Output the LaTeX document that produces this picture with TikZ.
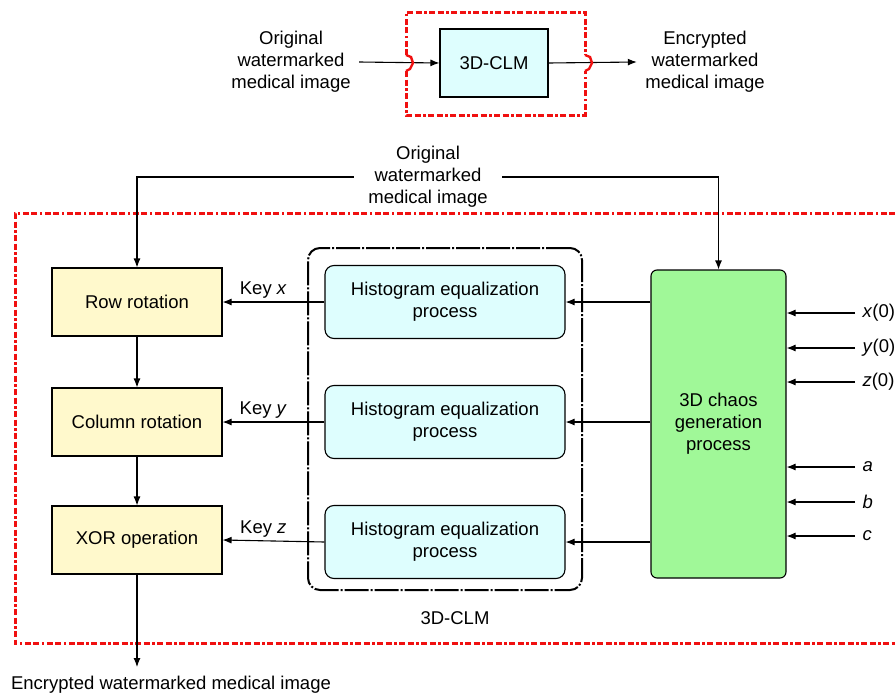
\documentclass[tikz,border=0pt]{standalone}
\usepackage{fontspec}
\setmainfont{Liberation Sans}
\usetikzlibrary{arrows.meta}

\definecolor{clmcyan}{RGB}{222,254,254}
\definecolor{keyyellow}{RGB}{255,249,204}
\definecolor{chaosgreen}{RGB}{160,248,152}
\definecolor{framered}{RGB}{240,16,16}

\tikzset{
    >={Latex[length=9pt,width=7pt]},
    opbox/.style={draw, fill=keyyellow, minimum width=170pt, minimum height=68pt},
    histbox/.style={draw, fill=clmcyan, rounded corners=9pt, minimum width=240pt, minimum height=73pt, align=center},
    redframe/.style={draw=framered, line width=3pt, dash pattern=on 6pt off 2.5pt on 6pt off 2.5pt on 2.5pt off 2.5pt},
    param/.style={anchor=west, inner xsep=7pt}
}

\begin{document}
\begin{tikzpicture}[x=1pt, y=-1pt, font=\fontsize{18.5}{22}\selectfont, line width=1.1pt]
            \useasboundingbox (0,0) rectangle (895,696);

            % top: overview
            \node[align=center, inner xsep=8pt] (OrigTop) at (291,62) {Original\\watermarked\\medical image};
            \node[draw, fill=clmcyan, minimum width=108pt, minimum height=68pt] (CLMTop) at (494,63) {3D-CLM};
            \node[align=center, inner xsep=8pt] (EncTop) at (705,62) {Encrypted\\watermarked\\medical image};

            \draw[->] (OrigTop.east) to (CLMTop.west);
            \draw[->] (CLMTop.east) to (EncTop.west);

            \draw[redframe] (406,55) -- (406,12) -- (585,12) -- (585,55);
            \draw[redframe] (406,71) -- (406,115) -- (585,115) -- (585,71);
            \draw[draw=framered, line width=2.4pt] (406,55) -- (411,57) -- (413,63) -- (410,69) -- (406,71);
            \draw[draw=framered, line width=2.4pt] (585,55) -- (590,57) -- (592,63) -- (589,69) -- (585,71);

            % bottom: detail
            \draw[redframe] (895,213) -- (15,213) -- (15,643) -- (895,643);

            \node[align=center, inner xsep=14pt] (OrigImg) at (428,177) {Original\\watermarked\\medical image};

            \node[opbox] (Row) at (137,302) {Row rotation};
            \node[opbox] (Column) at (137,422) {Column rotation};
            \node[opbox] (XOR) at (137,540) {XOR operation};

            \node[draw, rounded corners=12pt, line width=2pt,
                  dash pattern=on 24pt off 2pt on 2pt off 2pt,
                  minimum width=274pt, minimum height=342pt] (CLM) at (445,419) {};
            \node (CLMLabel) at (455,618) {3D-CLM};

            \node[histbox] (Hist1) at (445,302) {Histogram equalization\\process};
            \node[histbox] (Hist2) at (445,422) {Histogram equalization\\process};
            \node[histbox] (Hist3) at (445,542) {Histogram equalization\\process};

            \node[draw, fill=chaosgreen, rounded corners=6pt, align=center,
                  minimum width=135pt, minimum height=308pt] (Chaos) at (718.5,424) {3D chaos\\generation\\process};

            \node[param] (X0) at (855,313) {\textit{x}(0)};
            \node[param] (Y0) at (855,348) {\textit{y}(0)};
            \node[param] (Z0) at (855,382) {\textit{z}(0)};
            \node[param] (ParA) at (855,467) {\textit{a}};
            \node[param] (ParB) at (855,502) {\textit{b}};
            \node[param] (ParC) at (855,536) {\textit{c}};

            \node (EncImg) at (171,685) {Encrypted watermarked medical image};
            \coordinate (EncEnd) at (137,667);

            \draw[->] (OrigImg.west) -| (Row.north);
            \draw[->] (OrigImg.east) -| (Chaos.north);
            \draw[->] (Row) to (Column);
            \draw[->] (Column) to (XOR);
            \draw[->] (XOR.south) to (EncEnd);

            \draw[->] (Hist1.west) to node[pos=0.6, above] {Key \textit{x}} (Row.east);
            \draw[->] (Hist2.west) to node[pos=0.6, above] {Key \textit{y}} (Column.east);
            \draw[->] (Hist3.west) to node[pos=0.6, above] {Key \textit{z}} (XOR.east);

            \draw[->] (Hist1.east -| Chaos.west) to (Hist1.east);
            \draw[->] (Hist2.east -| Chaos.west) to (Hist2.east);
            \draw[->] (Hist3.east -| Chaos.west) to (Hist3.east);

            \draw[->] (X0.west) to (X0.west -| Chaos.east);
            \draw[->] (Y0.west) to (Y0.west -| Chaos.east);
            \draw[->] (Z0.west) to (Z0.west -| Chaos.east);
            \draw[->] (ParA.west) to (ParA.west -| Chaos.east);
            \draw[->] (ParB.west) to (ParB.west -| Chaos.east);
            \draw[->] (ParC.west) to (ParC.west -| Chaos.east);
        \end{tikzpicture}
\end{document}
